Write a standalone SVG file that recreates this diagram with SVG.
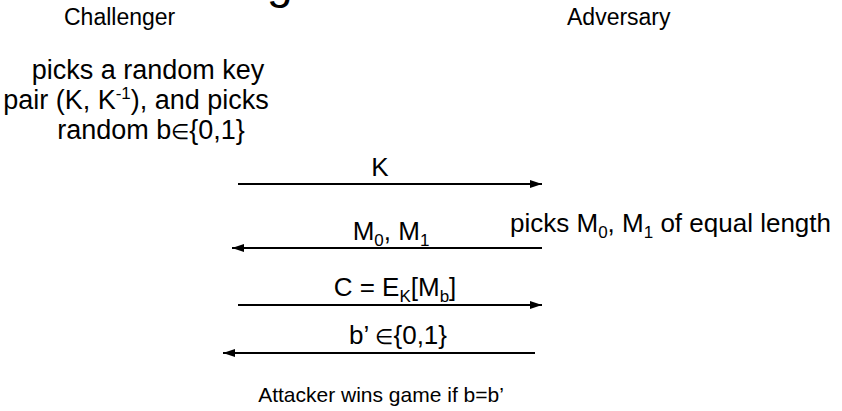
<svg xmlns="http://www.w3.org/2000/svg" width="842" height="411" viewBox="0 0 842 411">
  <defs>
    <marker id="head" markerWidth="12" markerHeight="8" refX="12" refY="4" orient="auto" markerUnits="userSpaceOnUse">
      <path d="M0,0 L12,4 L0,8 Z" fill="#000"/>
    </marker>
    <style>
      text { font-family: "Liberation Sans", Arial, sans-serif; fill: #000; }
      .role { font-size: 23px; }
      .note { font-size: 27px; text-anchor: middle; }
      .msg { font-size: 26px; text-anchor: middle; }
      .end { font-size: 21px; text-anchor: middle; }
      .sub { font-size: 17px; }
      .sup { font-size: 17px; }
      .elem { font-size: 21px; }
      .wire { stroke: #000; stroke-width: 2; fill: none; marker-end: url(#head); }
    </style>
  </defs>
  <rect width="842" height="411" fill="#fff"/>

  <!-- title, mostly above the top edge -->
  <text x="267" y="-2" font-size="46" font-family="Liberation Sans, Arial, sans-serif">g</text>

  <g id="challenger">
    <text class="role" x="64" y="25">Challenger</text>
    <text class="note" x="148" y="79">picks a random key</text>
    <text class="note" x="136" y="109">pair (K, K<tspan class="sup" dy="-10">-1</tspan><tspan dy="10">), and picks</tspan></text>
    <text class="note" x="151" y="139">random b<tspan class="elem">∈</tspan>{0,1}</text>
  </g>

  <g id="adversary">
    <text class="role" x="567" y="25">Adversary</text>
    <text x="510" y="232" font-size="26">picks M<tspan class="sub" dy="6">0</tspan><tspan dy="-6">, M</tspan><tspan class="sub" dy="6">1</tspan><tspan dy="-6"> of equal length</tspan></text>
  </g>

  <g id="outcome">
    <text class="end" x="381" y="402">Attacker wins game if b=b’</text>
  </g>

  <g id="connectors">
    <line class="wire" x1="238" y1="184" x2="542" y2="184"/>
    <text class="msg" x="380" y="176">K</text>

    <line class="wire" x1="542" y1="248" x2="232" y2="248"/>
    <text class="msg" x="391" y="240">M<tspan class="sub" dy="6">0</tspan><tspan dy="-6">, M</tspan><tspan class="sub" dy="6">1</tspan></text>

    <line class="wire" x1="238" y1="305" x2="542" y2="305"/>
    <text class="msg" x="395" y="296">C = E<tspan class="sub" dy="6">K</tspan><tspan dy="-6">[M</tspan><tspan class="sub" dy="6">b</tspan><tspan dy="-6">]</tspan></text>

    <line class="wire" x1="535" y1="353" x2="223" y2="353"/>
    <text class="msg" x="398" y="344">b’ <tspan class="elem">∈</tspan>{0,1}</text>
  </g>
</svg>
